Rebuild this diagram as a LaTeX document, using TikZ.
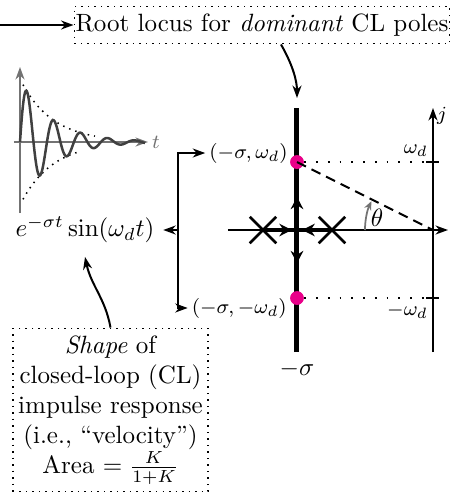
\documentclass[tikz,border=0pt]{standalone}
\usepackage{amsmath}
\usetikzlibrary{positioning, arrows.meta, calc, shapes.misc, decorations.markings}
\definecolor{polepink}{RGB}{233, 0, 137}
\definecolor{plotgray}{RGB}{115, 115, 115}

\begin{document}
\begin{tikzpicture}[
    x=0.4pt, y=0.4pt,
    >={Stealth[length=5pt, width=3.6pt]},
    dotbox/.style={
        draw=black,
        dotted,
        line width=0.6pt,
        align=center,
    },
    locus/.style={line width=2pt},
    branch/.style={line width=1.3pt},
    axis/.style={line width=0.8pt},
    pole/.style={
        circle,
        fill=polepink,
        inner sep=0pt,
        minimum size=5.4pt,
    },
    olpole/.style={
        draw=black,
        cross out,
        line width=1pt,
        inner sep=0pt,
        minimum size=9.6pt,
    },
    lbl/.style={font=\footnotesize, inner sep=1.5pt},
    link/.style={->, line width=0.8pt},
    midarrow/.style={
        postaction=decorate,
        decoration={markings, mark=at position #1 with {\arrow{Stealth[length=5pt, width=5pt]}}},
    },
    guide/.style={loosely dotted, line width=0.7pt},
]

% -- Frame of the picture
\useasboundingbox (0,0) rectangle (450,-495);

% -- Top: title box
\coordinate (lead) at (0,-25);
\node[dotbox, inner xsep=0.5pt, inner ysep=3pt] (rltitle) at (262,-25) {Root locus for \emph{dominant} CL poles};

% -- s-plane points
\coordinate (orig) at (433,-230);
\coordinate (realstart) at (228,-230);
\coordinate (realend) at (448,-230);
\coordinate (imagbot) at (433,-352);
\coordinate (imagtop) at (433,-108);
\coordinate (lotop) at (297,-108);
\coordinate (lobot) at (297,-352);
\coordinate (brk) at (297,-230);
\coordinate (ola) at (263,-230);
\coordinate (olb) at (332,-230);
\coordinate (wdtick) at (433,-162);
\coordinate (mwdtick) at (433,-298);

% -- Axes and ticks
\draw[axis, ->] (realstart) -- (realend);
\draw[axis, ->] (imagbot) -- (imagtop);
\draw[axis] ([xshift=-2.6pt]wdtick) -- ([xshift=2.6pt]wdtick);
\draw[axis] ([xshift=-2.6pt]mwdtick) -- ([xshift=2.6pt]mwdtick);

% -- Root locus
\draw[locus] (lobot) -- (lotop);
\draw[branch, midarrow=0.85] (ola) -- (brk);
\draw[branch, midarrow=0.85] (olb) -- (brk);

% -- Dominant poles
\node[pole] (pup) at (297,-162) {};
\node[pole] (pdn) at (297,-298) {};
\draw[locus, midarrow=0.55] (brk) -- (pup);
\draw[locus, midarrow=0.55] (brk) -- (pdn);
\node[pole] at (pup) {};
\node[pole] at (pdn) {};

% -- Open-loop poles
\node[olpole] (olpa) at (ola) {};
\node[olpole] (olpb) at (olb) {};

% -- Guides and angle
\draw[guide] (pup) -- (wdtick);
\draw[guide] (pdn) -- (mwdtick);
\draw[dash pattern=on 4pt off 2.5pt, line width=0.8pt] (pup.center) -- (orig);
\draw[plotgray, line width=0.7pt, -{Stealth[length=3.5pt, width=3pt]}] ($(orig)+(180:27.2pt)$) arc[start angle=180, end angle=155, radius=27.2pt];
\node (thetalbl) at (377,-218) {$\theta$};

% -- s-plane labels
\node[lbl, above left=0.5pt] (wdlbl) at (wdtick) {$\omega_d$};
\node[lbl, below left=0.5pt] (mwdlbl) at (mwdtick) {$-\omega_d$};
\node[lbl, anchor=north west] (jlbl) at ([yshift=2pt]imagtop) {$j$};
\node[lbl, anchor=east] (upperlbl) at (292,-153) {$(-\sigma,\omega_d)$};
\node[lbl, anchor=east] (lowerlbl) at (291,-308) {$(-\sigma,-\omega_d)$};
\node (sigmalbl) at (297,-369) {$-\sigma$};

% -- Impulse response sketch
\coordinate (pybot) at (20,-213);
\coordinate (pytop) at (20,-67);
\coordinate (pxl) at (14,-142);
\coordinate (pxr) at (148,-142);
\draw[plotgray, axis, ->] (pybot) -- (pytop);
\draw[plotgray, axis, ->] (pxl) -- (pxr);
\node[plotgray, lbl, right] (tlbl) at (pxr) {$t$};
\draw[dotted, line width=0.6pt] plot[domain=3:75, samples=40] ({20+\x},{-142+63*exp(-0.0316*\x)});
\draw[dotted, line width=0.6pt] plot[domain=3:60, samples=40] ({20+\x},{-142-63*exp(-0.0316*\x)});
\draw[black!75, line width=1pt] plot[domain=0:125, samples=200, smooth] ({20+\x},{-142+63*exp(-0.0316*\x)*sin(0.233*\x r)});

% -- Response formula
\node (formula) at (85,-230) {$e^{-\sigma t}\sin(\omega_d t)$};

% -- Bottom: shape box
\node[dotbox, minimum width=78pt, inner xsep=1.5pt, inner ysep=3pt] (shapebox) at (110.5,-410) {%
    \emph{Shape} of\\
    closed-loop (CL)\\
    impulse response\\
    (i.e., ``velocity'')\\
    Area $=\frac{K}{1+K}$%
};

% ===== Arrows =====

% lead -> title
\draw[link] (lead) -- (rltitle);

% title -> root locus
\draw[link, shorten >=4pt] ($(rltitle.south)+(19,0)$) to[out=-60, in=90] (lotop);

% bracket: formula <-> dominant poles
\coordinate (brmid) at (178,-230);
\draw[link] (brmid) -- (formula);
\draw[link] (brmid) |- (upperlbl);
\draw[link] (brmid) |- (lowerlbl);

% shape box -> formula
\draw[link] (shapebox.north) to[out=100, in=-78] ([yshift=-2pt]formula.south);

\end{tikzpicture}
\end{document}
